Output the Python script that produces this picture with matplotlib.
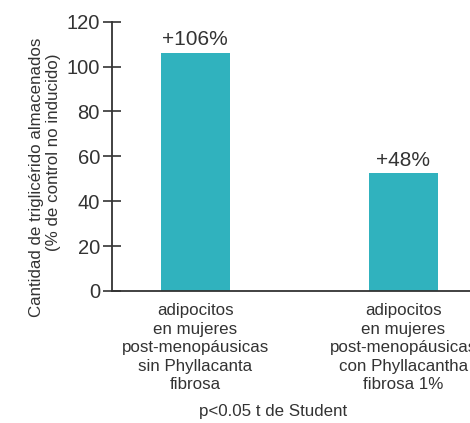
import matplotlib.pyplot as plt

plt.rcParams['font.family'] = ['Liberation Sans', 'DejaVu Sans']

TEXT_COLOR = '#333333'
BAR_COLOR = '#30b2be'

categories = ['adipocitos\nen mujeres\npost-menopáusicas\nsin Phyllacanta\nfibrosa',
              'adipocitos\nen mujeres\npost-menopáusicas\ncon Phyllacantha\nfibrosa 1%']
values = [106.2, 52.5]
bar_labels = ['+106%', '+48%']
y_ticks = [0, 20, 40, 60, 80, 100, 120]


def main() -> None:
    fig = plt.figure(figsize=(4.7, 4.23), dpi=100)
    ax = fig.add_axes([111.7 / 470, 1 - 291 / 423, 1 - 111.7 / 470, 269.3 / 423])

    x = range(len(values))
    bars = ax.bar(x, values, width=0.332, color=BAR_COLOR)
    for bar, label in zip(bars, bar_labels):
        ax.text(bar.get_x() + bar.get_width() / 2, bar.get_height() + 1.5,
                label, ha='center', va='bottom', fontsize=15,
                color=TEXT_COLOR)

    ax.set_xlim(-0.401, 1.321)
    ax.set_ylim(0, 120)
    ax.set_yticks(y_ticks)
    ax.set_yticklabels([str(t) for t in y_ticks], fontsize=14.5,
                       color=TEXT_COLOR)
    ax.tick_params(axis='y', direction='inout', length=13, width=1.2,
                   color=TEXT_COLOR, pad=2)
    ax.set_xticks(list(x))
    ax.set_xticklabels(categories, fontsize=12.2, color=TEXT_COLOR,
                       linespacing=1.29)
    ax.tick_params(axis='x', length=0, pad=9)

    for side in ('top', 'right'):
        ax.spines[side].set_visible(False)
    for side in ('left', 'bottom'):
        ax.spines[side].set_color(TEXT_COLOR)
        ax.spines[side].set_linewidth(1.3)
    ax.spines['left'].set_zorder(3)

    fig.text(37 / 470, 1 - 177.5 / 423,
             'Cantidad de triglicérido almacenados',
             rotation=90, ha='center', va='center', fontsize=12.2,
             color=TEXT_COLOR)
    fig.text(54 / 470, 1 - 152.5 / 423,
             '(% de control no inducido)',
             rotation=90, ha='center', va='center', fontsize=12.2,
             color=TEXT_COLOR)
    fig.text(273 / 470, 1 - 411 / 423, 'p<0.05 t de Student',
             ha='center', va='center', fontsize=12.2, color=TEXT_COLOR)

    fig.savefig('out.png', dpi=100)


if __name__ == '__main__':
    main()
